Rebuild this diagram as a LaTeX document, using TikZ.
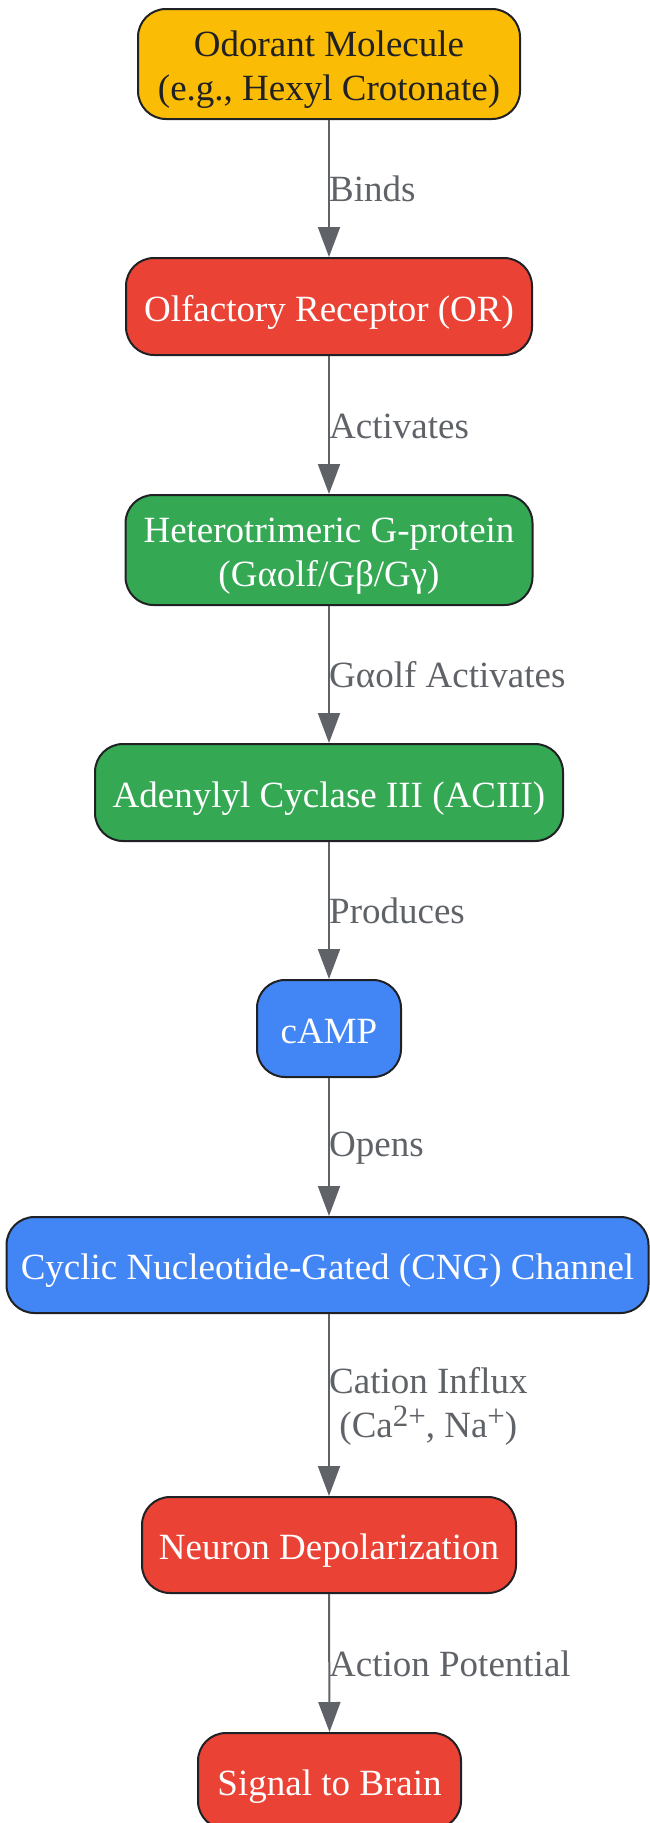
\documentclass[tikz,border=0pt]{standalone}
\usepackage{fontspec}
\setmainfont{Liberation Serif}
\usetikzlibrary{arrows.meta}
\definecolor{cyellow}{HTML}{FBBC05}
\definecolor{cred}{HTML}{EA4335}
\definecolor{cgreen}{HTML}{34A853}
\definecolor{cblue}{HTML}{4285F4}
\definecolor{cborder}{HTML}{202124}
\definecolor{cline}{HTML}{5F6368}
\newcommand\mysup[1]{\raisebox{11pt}{\fontsize{31}{31}\selectfont #1}}
\tikzset{
  box/.style={draw=cborder, line width=2pt, rounded corners=28pt, align=center,
    inner sep=0pt, font=\fontsize{37}{44}\selectfont, text=white},
  oneline/.style={text height=33pt, text depth=4pt},
  twoline/.style={text height=77pt, text depth=4pt},
  lab/.style={anchor=west, inner sep=0pt, align=center, text=cline,
    font=\fontsize{37}{44}\selectfont},
  conn/.style={draw=cline, line width=2pt, -{Triangle[width=22pt,length=30pt]}},
}
\begin{document}
\begin{tikzpicture}[x=1pt,y=-1pt]
\useasboundingbox (0,0) rectangle (649,1823);
\node[box, twoline, fill=cyellow, text=cborder, minimum width=382pt, minimum height=110pt] (odor) at (329,64) {Odorant Molecule\\(e.g., Hexyl Crotonate)};
\node[box, oneline, fill=cred, minimum width=406pt, minimum height=97pt] (or) at (329,306.5) {Olfactory Receptor (OR)};
\node[box, twoline, fill=cgreen, minimum width=407pt, minimum height=110pt] (gp) at (329,550) {Heterotrimeric G-protein\\(Gαolf/Gβ/Gγ)};
\node[box, oneline, fill=cgreen, minimum width=468pt, minimum height=97pt] (ac) at (329,792.5) {Adenylyl Cyclase III (ACIII)};
\node[box, oneline, fill=cblue, minimum width=144pt, minimum height=97pt] (camp) at (329,1028.5) {cAMP};
\node[box, oneline, fill=cblue, minimum width=642pt, minimum height=96pt] (cng) at (327.5,1265) {Cyclic Nucleotide-Gated (CNG) Channel};
\node[box, oneline, fill=cred, minimum width=374pt, minimum height=96pt] (dep) at (329,1545) {Neuron Depolarization};
\node[box, oneline, fill=cred, minimum width=263pt, minimum height=96pt] (sig) at (329.5,1781) {Signal to Brain};
\draw[conn] (odor.south) -- (or.north);
\draw[conn] (or.south) -- (gp.north);
\draw[conn] (gp.south) -- (ac.north);
\draw[conn] (ac.south) -- (camp.north);
\draw[conn] (camp.south) -- (camp.south |- cng.north);
\draw[conn] (camp.south |- cng.south) -- (dep.north);
\draw[conn] (dep.south) -- (sig.north);
\node[lab] (l1) at (329,189) {Binds};
\node[lab] (l2) at (329,426) {Activates};
\node[lab] (l3) at (329,675) {Gαolf Activates};
\node[lab] (l4) at (329,911) {Produces};
\node[lab] (l5) at (329,1148) {Opens};
\node[lab] (l6) at (329,1406) {Cation Influx\\(Ca\mysup{2+}, Na\mysup{+})};
\node[lab] (l7) at (329,1664) {Action Potential};
\end{tikzpicture}
\end{document}
